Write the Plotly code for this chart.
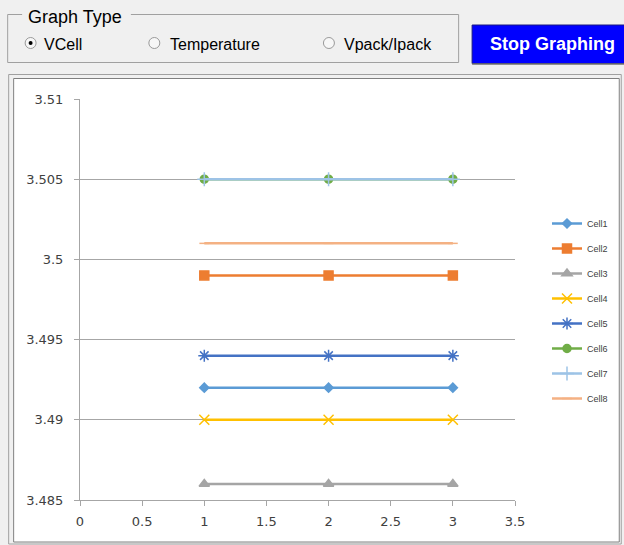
import plotly.graph_objects as go

# sample index on x, cell voltage on y
samples = [1, 2, 3]
cell_names = ['Cell1', 'Cell2', 'Cell3', 'Cell4', 'Cell5', 'Cell6', 'Cell7', 'Cell8']
cell1 = [3.492, 3.492, 3.492]
cell2 = [3.499, 3.499, 3.499]
cell3 = [3.486, 3.486, 3.486]
cell4 = [3.490, 3.490, 3.490]
cell5 = [3.494, 3.494, 3.494]
cell6 = [3.505, 3.505, 3.505]
cell7 = [3.505, 3.505, 3.505]
cell8 = [3.501, 3.501, 3.501]
y_ticks = [3.485, 3.49, 3.495, 3.5, 3.505, 3.51]
y_tick_text = ['3.485', '3.49', '3.495', '3.5', '3.505', '3.51']
x_ticks = [0, 0.5, 1, 1.5, 2, 2.5, 3, 3.5]
x_tick_text = ['0', '0.5', '1', '1.5', '2', '2.5', '3', '3.5']

series = [cell1, cell2, cell3, cell4, cell5, cell6, cell7, cell8]
colors = ['#5b9bd5', '#ed7d31', '#a5a5a5', '#ffc000', '#4472c4', '#70ad47', '#9dc3e6', '#f4b183']
symbols = ['diamond', 'square', 'triangle-up', 'x-thin-open', 'asterisk-open', 'circle', 'cross-thin-open', 'line-ew-open']
sizes = [7, 9, 9, 10, 10, 8, 10, 7]

W, H = 624, 545
L, R, T, B = 80, 516, 99, 500


def px(x):
    return (x - L) / (R - L)


def py(y):
    return (B - y) / (B - T)


fig = go.Figure()
for name, vals, c, s, sz in zip(cell_names, series, colors, symbols, sizes):
    fig.add_trace(go.Scatter(
        x=samples, y=vals, name=name, mode='lines+markers', legendgroup=name,
        line=dict(color=c, width=2.5),
        marker=dict(symbol=s, size=sz, color=c, line=dict(color=c, width=1.5)),
    ))

shapes = []
# chart panel (double border, white inside)
shapes.append(dict(type='rect', xref='paper', yref='paper', layer='below',
                   x0=px(8.5), x1=px(622.5), y0=py(544), y1=py(74.5),
                   line=dict(color='#a0a0a0', width=1), fillcolor='#f0f0f0'))
shapes.append(dict(type='rect', xref='paper', yref='paper', layer='below',
                   x0=px(13.5), x1=px(620.5), y0=py(542), y1=py(78.5),
                   line=dict(color='#808080', width=1), fillcolor='white'))
# group box border, broken by its title
for x0, y0, x1, y1 in [(7.5, 14.5, 22, 14.5), (131, 14.5, 459.5, 14.5),
                       (459.5, 14.5, 459.5, 62.5), (7.5, 62.5, 459.5, 62.5),
                       (7.5, 14.5, 7.5, 62.5)]:
    shapes.append(dict(type='line', xref='paper', yref='paper',
                       x0=px(x0), y0=py(y0), x1=px(x1), y1=py(y1),
                       line=dict(color='#a0a0a0', width=1)))
# radio buttons
for cx, on in [(30.5, True), (154.5, False), (329.5, False)]:
    shapes.append(dict(type='circle', xref='paper', yref='paper',
                       x0=px(cx - 5.5), x1=px(cx + 5.5), y0=py(43 + 5.5), y1=py(43 - 5.5),
                       line=dict(color='#9a9a9a', width=1), fillcolor='#f7f7f7'))
    if on:
        shapes.append(dict(type='circle', xref='paper', yref='paper',
                           x0=px(cx - 2), x1=px(cx + 2), y0=py(43 + 2), y1=py(43 - 2),
                           line=dict(color='black', width=0), fillcolor='black'))
# Stop Graphing button
shapes.append(dict(type='rect', xref='paper', yref='paper',
                   x0=px(473), x1=px(630), y0=py(63.5), y1=py(25),
                   line=dict(color='#1a1a80', width=1), fillcolor='#0000ff'))
shapes.append(dict(type='line', xref='paper', yref='paper',
                   x0=px(473), x1=px(630), y0=py(64), y1=py(64),
                   line=dict(color='#707070', width=1.5)))

ui_font = 'Liberation Sans'
annotations = [
    dict(text='Graph Type', x=px(26), y=py(17), xanchor='left', yanchor='middle',
         font=dict(family=ui_font, size=18, color='#000000')),
    dict(text='VCell', x=px(42), y=py(44), xanchor='left', yanchor='middle',
         font=dict(family=ui_font, size=16, color='#000000')),
    dict(text='Temperature', x=px(168), y=py(44), xanchor='left', yanchor='middle',
         font=dict(family=ui_font, size=16, color='#000000')),
    dict(text='Vpack/Ipack', x=px(343), y=py(44), xanchor='left', yanchor='middle',
         font=dict(family=ui_font, size=16, color='#000000')),
    dict(text='<b>Stop Graphing</b>', x=px(554), y=py(44), xanchor='center', yanchor='middle',
         font=dict(family=ui_font, size=18, color='white')),
]
for a in annotations:
    a.update(xref='paper', yref='paper', showarrow=False)

fig.update_layout(
    width=W, height=H, autosize=False,
    margin=dict(l=L, r=W - R, t=T, b=H - B),
    paper_bgcolor='#f0f0f0', plot_bgcolor='rgba(0,0,0,0)',
    shapes=shapes, annotations=annotations,
    font=dict(family='DejaVu Sans', color='#404040'),
    legend=dict(x=px(547), y=py(209), xanchor='left', yanchor='top',
                bgcolor='rgba(0,0,0,0)', font=dict(family='Liberation Sans', size=9, color='#404040'),
                tracegroupgap=6, itemwidth=30),
    showlegend=True,
)
fig.update_xaxes(range=[0, 3.5], tickvals=x_ticks, ticktext=x_tick_text,
                 showgrid=False, zeroline=False, showline=True, linecolor='#a6a6a6',
                 ticks='outside', ticklen=5, tickcolor='#a6a6a6', ticklabelstandoff=4,
                 tickfont=dict(size=13, color='#404040'))
fig.update_yaxes(range=[3.485, 3.51], tickvals=y_ticks, ticktext=y_tick_text,
                 showgrid=True, gridcolor='#a6a6a6', gridwidth=1, zeroline=False,
                 showline=True, linecolor='#a6a6a6',
                 ticks='outside', ticklen=5, tickcolor='#a6a6a6', ticklabelstandoff=8,
                 tickfont=dict(size=13, color='#404040'))

# page body has a default margin and may scroll; pin the figure to the window origin
fig.write_html('out.html',
               config={'displayModeBar': False, 'responsive': False},
               post_script="document.body.style.margin='0';document.body.style.overflow='hidden';")
